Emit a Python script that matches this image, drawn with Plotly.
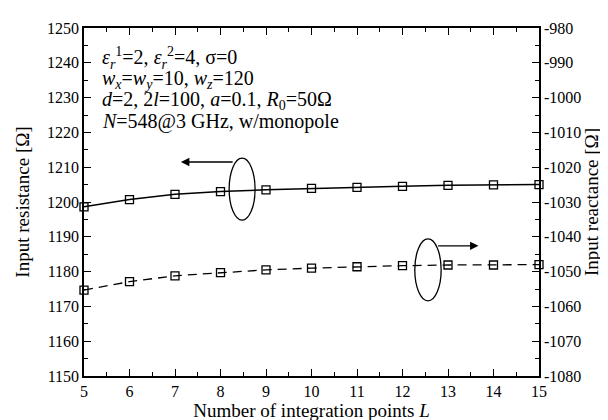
import plotly.graph_objects as go

L = [5, 6, 7, 8, 9, 10, 11, 12, 13, 14, 15]
resistance = [1198.6, 1200.7, 1202.2, 1203.0, 1203.5, 1203.9, 1204.2, 1204.5, 1204.8, 1204.9, 1205.0]
reactance = [-1055.3, -1052.9, -1051.2, -1050.3, -1049.5, -1049.0, -1048.6, -1048.3, -1048.1, -1048.1, -1048.0]
x_ticks = list(range(5, 16))
left_ticks = list(range(1150, 1251, 10))
right_ticks = list(range(-1080, -979, 10))
right_ticktext = ["%d" % v for v in right_ticks]

FONT = "Liberation Serif, Times New Roman, serif"

fig = go.Figure()
fig.add_trace(go.Scatter(
    x=L, y=resistance, mode="lines+markers",
    line=dict(color="black", width=1.5),
    marker=dict(symbol="square-open", size=8, color="black", line=dict(width=1.3)),
    cliponaxis=False, showlegend=False, yaxis="y"))
fig.add_trace(go.Scatter(
    x=L, y=reactance, mode="lines+markers",
    line=dict(color="black", width=1.3, dash="9px,6px"),
    marker=dict(symbol="square-open", size=8, color="black", line=dict(width=1.3)),
    cliponaxis=False, showlegend=False, yaxis="y2"))

axis_common = dict(showline=True, linecolor="black", linewidth=1.5, ticks="inside",
                   ticklen=7, tickwidth=1.3, tickcolor="black", showgrid=False, zeroline=False,
                   tickfont=dict(family=FONT, size=16, color="black"))

fig.update_layout(
    width=608, height=420,
    margin=dict(l=76, r=77, t=13, b=46),
    paper_bgcolor="white", plot_bgcolor="white",
    font=dict(family=FONT, color="black"),
    xaxis=dict(range=[5, 15], tickvals=x_ticks, mirror="ticks",
               minor=dict(dtick=0.5, ticks="inside", ticklen=4, tickcolor="black", tickwidth=1.2),
               title=dict(text="Number of integration points <i>L</i>",
                          font=dict(family=FONT, size=19, color="black"), standoff=3),
               **axis_common),
    yaxis=dict(range=[1150, 1250], tickvals=left_ticks,
               minor=dict(dtick=5, ticks="inside", ticklen=4, tickcolor="black", tickwidth=1.2),
               title=dict(text="Input resistance [Ω]",
                          font=dict(family=FONT, size=19, color="black"), standoff=12),
               **axis_common),
    yaxis2=dict(range=[-1080, -980], tickvals=right_ticks, ticktext=right_ticktext,
                overlaying="y", side="right",
                minor=dict(dtick=5, ticks="inside", ticklen=4, tickcolor="black", tickwidth=1.2),
                title=dict(text="Input reactance [Ω]",
                           font=dict(family=FONT, size=19, color="black"), standoff=0),
                **axis_common),
)

# Text block
lines = [
    "<i>ε</i><sub><i>r</i></sub><sup>1</sup>=2, <i>ε</i><sub><i>r</i></sub><sup>2</sup>=4, σ=0",
    "<i>w</i><sub><i>x</i></sub>=<i>w</i><sub><i>y</i></sub>=10, <i>w</i><sub><i>z</i></sub>=120",
    "<i>d</i>=2, 2<i>l</i>=100, <i>a</i>=0.1, <i>R</i><sub>0</sub>=50Ω",
    "<i>N</i>=548@3 GHz, w/monopole",
]
ys_px = [44, 66, 88, 110]
for t, ypx in zip(lines, ys_px):
    fig.add_annotation(text=t, xref="paper", yref="paper",
                       x=(92 - 76) / 455, y=1 - (ypx - 13) / 361,
                       xanchor="left", yanchor="middle", showarrow=False,
                       font=dict(family=FONT, size=20, color="black"))

# Ellipses
fig.add_shape(type="circle", xref="x", yref="y", x0=8.19, x1=8.76, y0=1194.8, y1=1212.6,
              line=dict(color="black", width=1.3))
fig.add_shape(type="circle", xref="x", yref="y", x0=12.27, x1=12.85, y0=1171.6, y1=1189.4,
              line=dict(color="black", width=1.3))

# Arrows
fig.add_annotation(x=7.13, y=1211.5, ax=8.3, ay=1211.5, xref="x", yref="y", axref="x", ayref="y",
                   showarrow=True, arrowhead=2, arrowsize=1.3, arrowwidth=1.3, arrowcolor="black", text="")
fig.add_annotation(x=13.67, y=1187.4, ax=12.75, ay=1187.4, xref="x", yref="y", axref="x", ayref="y",
                   showarrow=True, arrowhead=2, arrowsize=1.3, arrowwidth=1.3, arrowcolor="black", text="")

fig.write_html("out.html")
